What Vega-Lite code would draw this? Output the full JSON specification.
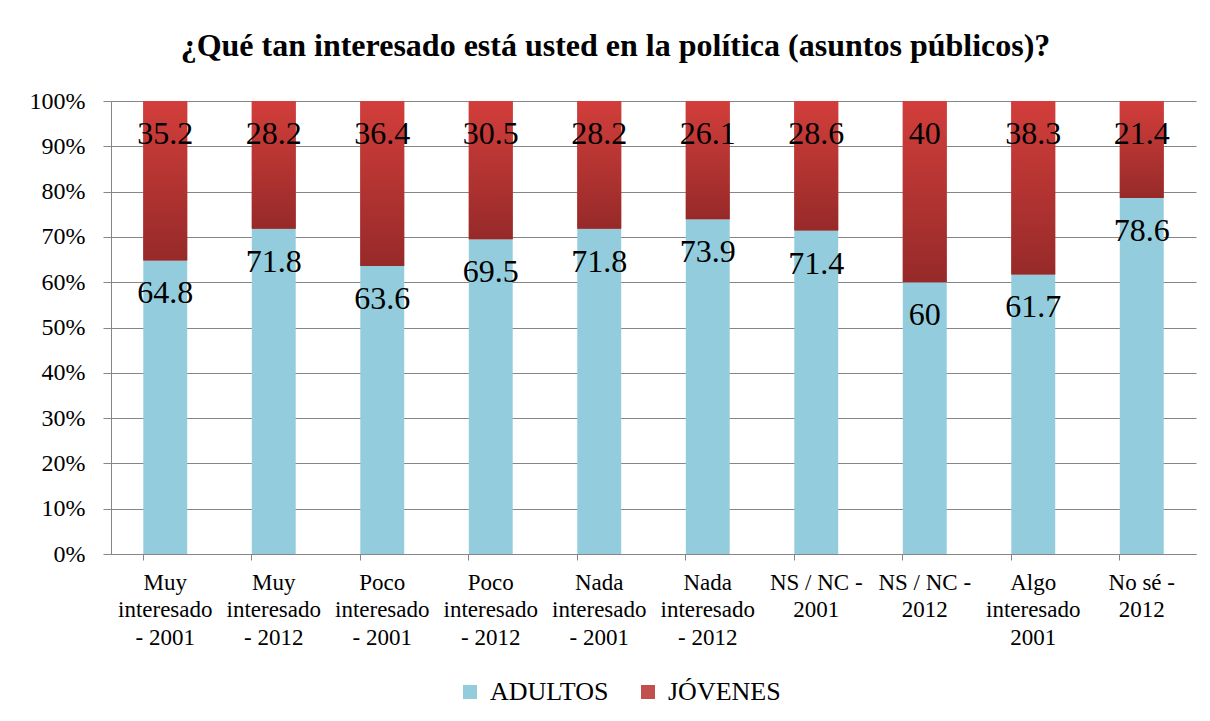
{
  "$schema": "https://vega.github.io/schema/vega-lite/v6.json",
  "width": 1085,
  "height": 453,
  "autosize": {"type": "none"},
  "padding": {"left": 111, "top": 101, "right": 14, "bottom": 167},
  "background": "white",
  "title": {
    "text": "¿Qué tan interesado está usted en la política (asuntos públicos)?",
    "font": "Liberation Serif",
    "fontSize": 32,
    "fontWeight": "bold",
    "color": "black",
    "dx": -38,
    "offset": 26
  },
  "data": {
    "values": [
      {"categoria": "Muy interesado - 2001", "grupo": "ADULTOS", "valor": 64.8},
      {"categoria": "Muy interesado - 2001", "grupo": "JÓVENES", "valor": 35.2},
      {"categoria": "Muy interesado - 2012", "grupo": "ADULTOS", "valor": 71.8},
      {"categoria": "Muy interesado - 2012", "grupo": "JÓVENES", "valor": 28.2},
      {"categoria": "Poco interesado - 2001", "grupo": "ADULTOS", "valor": 63.6},
      {"categoria": "Poco interesado - 2001", "grupo": "JÓVENES", "valor": 36.4},
      {"categoria": "Poco interesado - 2012", "grupo": "ADULTOS", "valor": 69.5},
      {"categoria": "Poco interesado - 2012", "grupo": "JÓVENES", "valor": 30.5},
      {"categoria": "Nada interesado - 2001", "grupo": "ADULTOS", "valor": 71.8},
      {"categoria": "Nada interesado - 2001", "grupo": "JÓVENES", "valor": 28.2},
      {"categoria": "Nada interesado - 2012", "grupo": "ADULTOS", "valor": 73.9},
      {"categoria": "Nada interesado - 2012", "grupo": "JÓVENES", "valor": 26.1},
      {"categoria": "NS / NC - 2001", "grupo": "ADULTOS", "valor": 71.4},
      {"categoria": "NS / NC - 2001", "grupo": "JÓVENES", "valor": 28.6},
      {"categoria": "NS / NC - 2012", "grupo": "ADULTOS", "valor": 60},
      {"categoria": "NS / NC - 2012", "grupo": "JÓVENES", "valor": 40},
      {"categoria": "Algo interesado 2001", "grupo": "ADULTOS", "valor": 61.7},
      {"categoria": "Algo interesado 2001", "grupo": "JÓVENES", "valor": 38.3},
      {"categoria": "No sé - 2012", "grupo": "ADULTOS", "valor": 78.6},
      {"categoria": "No sé - 2012", "grupo": "JÓVENES", "valor": 21.4}
    ]
  },
  "transform": [
    {
      "stack": "valor",
      "groupby": ["categoria"],
      "sort": [{"field": "grupo", "order": "ascending"}],
      "offset": "normalize",
      "as": ["v0", "v1"]
    }
  ],
  "encoding": {
    "x": {
      "field": "categoria",
      "type": "nominal",
      "sort": null,
      "scale": {"paddingInner": 0.595, "paddingOuter": 0.2975},
      "axis": {
        "title": null,
        "labelAngle": 0,
        "bandPosition": 0,
        "tickSize": 6,
        "tickColor": "#868686",
        "domainColor": "#868686",
        "labelFont": "Liberation Serif",
        "labelFontSize": 23,
        "labelLineHeight": 27.5,
        "labelColor": "black",
        "labelPadding": 11,
        "labelBaseline": "top",
        "labelLimit": 200,
        "grid": false,
        "labelExpr": "indexof(datum.value, 'interesado') >= 0 ? split(replace(datum.value, ' interesado ', '|interesado|'), '|') : split(replace(datum.value, ' 20', '|20'), '|')"
      }
    }
  },
  "layer": [
    {
      "mark": {"type": "bar"},
      "encoding": {
        "y": {
          "field": "v1",
          "type": "quantitative",
          "scale": {"domain": [0, 1]},
          "axis": {
            "title": null,
            "values": [0, 0.1, 0.2, 0.3, 0.4, 0.5, 0.6, 0.7, 0.8, 0.9, 1],
            "format": ".0%",
            "grid": true,
            "gridColor": "#868686",
            "gridWidth": 1,
            "domainColor": "#868686",
            "tickColor": "#868686",
            "tickSize": 8,
            "labelPadding": 18,
            "labelFont": "Liberation Serif",
            "labelFontSize": 24,
            "labelColor": "black"
          }
        },
        "y2": {"field": "v0"},
        "color": {
          "field": "grupo",
          "type": "nominal",
          "scale": {"domain": ["ADULTOS", "JÓVENES"], "range": ["#93CDDD", "#C0504D"]},
          "legend": {
            "orient": "none",
            "legendX": 346,
            "legendY": 578,
            "direction": "horizontal",
            "title": null,
            "symbolType": "square",
            "symbolSize": 196,
            "symbolStrokeWidth": 0,
            "labelFont": "Liberation Serif",
            "labelFontSize": 26,
            "labelColor": "black",
            "labelOffset": 7,
            "columnPadding": 26
          }
        }
      }
    },
    {
      "transform": [{"filter": "datum.grupo == 'JÓVENES'"}],
      "mark": {
        "type": "bar",
        "fill": {
          "gradient": "linear",
          "x1": 0, "y1": 0, "x2": 0, "y2": 1,
          "stops": [
            {"offset": 0, "color": "#D23E3B"},
            {"offset": 1, "color": "#962A29"}
          ]
        }
      },
      "encoding": {
        "y": {"field": "v1", "type": "quantitative"},
        "y2": {"field": "v0"}
      }
    },
    {
      "mark": {
        "type": "text",
        "font": "Liberation Serif",
        "fontSize": 32,
        "baseline": "alphabetic",
        "dy": 43,
        "color": "black"
      },
      "encoding": {
        "y": {"field": "v1", "type": "quantitative"},
        "text": {"field": "valor", "type": "nominal"}
      }
    }
  ],
  "config": {
    "view": {"stroke": null}
  }
}
